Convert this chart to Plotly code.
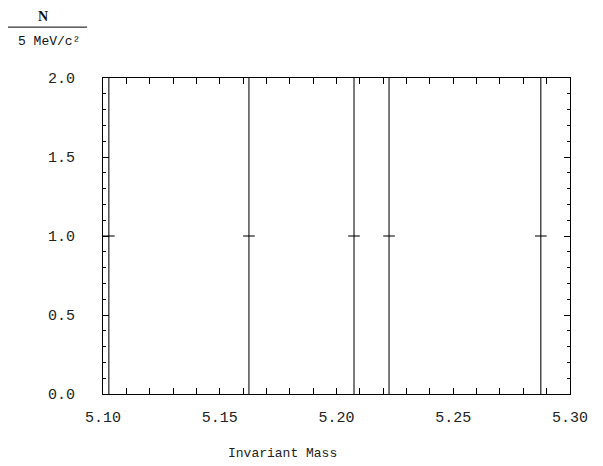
import plotly.graph_objects as go

# bin centres (GeV/c^2), counts per 5 MeV bin, errors
mass = [5.1025, 5.1625, 5.2075, 5.2225, 5.2875]
counts = [1, 1, 1, 1, 1]
count_err = [1, 1, 1, 1, 1]
half_bin = [0.0025, 0.0025, 0.0025, 0.0025, 0.0025]

x_ticks = [5.10, 5.15, 5.20, 5.25, 5.30]
x_labels = ["5.10", "5.15", "5.20", "5.25", "5.30"]
y_ticks = [0.0, 0.5, 1.0, 1.5, 2.0]
y_labels = ["0.0", "0.5", "1.0", "1.5", "2.0"]

fig = go.Figure()
fig.add_trace(go.Scatter(
    x=mass, y=counts, mode="markers",
    marker=dict(size=1, color="black"),
    error_y=dict(type="data", array=count_err, width=0, thickness=1.2, color="#222"),
    error_x=dict(type="data", array=half_bin, width=0, thickness=1.2, color="#222"),
    showlegend=False, hoverinfo="x+y",
))
# invisible companion trace carrying the label axis
fig.add_trace(go.Scatter(x=mass, y=counts, yaxis="y2", mode="markers",
                         marker=dict(size=1, opacity=0), showlegend=False, hoverinfo="skip"))

mono = "Liberation Mono"
axis_common = dict(
    showline=True, linecolor="black", linewidth=1.2, mirror="allticks",
    ticks="inside", ticklen=6, tickcolor="black", tickwidth=1,
    showgrid=False, zeroline=False, automargin=False,
    tickfont=dict(family=mono, size=15, color="#222"),
)
fig.update_xaxes(range=[5.10, 5.30], tickvals=x_ticks, ticktext=x_labels,
                 ticklabelstandoff=9,
                 minor=dict(dtick=0.01, ticks="inside", ticklen=3, tickcolor="black", showgrid=False),
                 **axis_common)
fig.update_yaxes(range=[0, 2.0], tickvals=y_ticks, showticklabels=False,
                 minor=dict(dtick=0.1, ticks="inside", ticklen=3, tickcolor="black", showgrid=False),
                 **axis_common)

# page body adds an 8px offset, so margins are reduced accordingly
fig.update_layout(
    width=603, height=466,
    margin=dict(l=95, r=41, t=70, b=80),
    paper_bgcolor="white", plot_bgcolor="white",
    yaxis2=dict(overlaying="y", side="left", range=[0, 2.0], tickvals=y_ticks,
                ticktext=y_labels, ticks="outside", ticklen=24,
                tickcolor="rgba(0,0,0,0)", showline=False, showgrid=False,
                zeroline=False, automargin=False,
                tickfont=dict(family=mono, size=15, color="#222")),
    annotations=[
        dict(text="<b>N</b>", xref="paper", yref="paper", x=-0.128, y=1.195,
             xanchor="center", yanchor="middle", showarrow=False,
             font=dict(family="Liberation Serif", size=14, color="#111")),
        dict(text="5 MeV/c²", xref="paper", yref="paper", x=-0.116, y=1.114,
             xanchor="center", yanchor="middle", showarrow=False,
             font=dict(family=mono, size=13, color="#111")),
        dict(text="Invariant Mass", xref="paper", yref="paper", x=0.385, y=-0.187,
             xanchor="center", yanchor="middle", showarrow=False,
             font=dict(family=mono, size=13, color="#222")),
    ],
    shapes=[dict(type="line", xref="paper", yref="paper", x0=-0.206, x1=-0.034,
                 y0=1.161, y1=1.161, line=dict(color="black", width=1))],
)

fig.write_html("out.html")
